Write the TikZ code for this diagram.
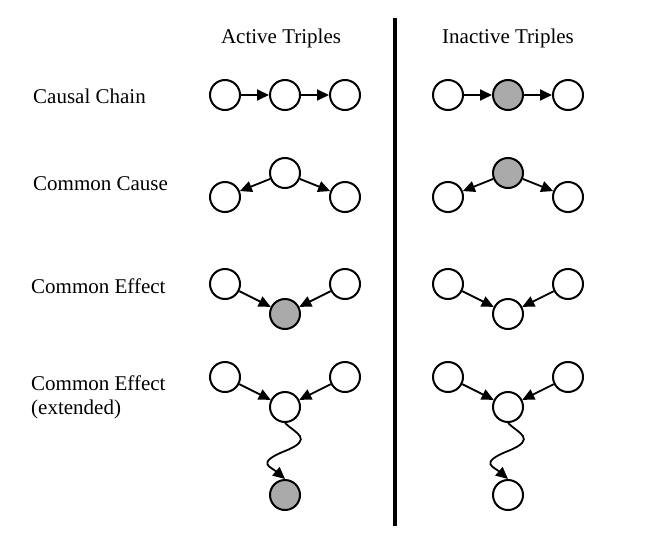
\documentclass[tikz,border=0pt]{standalone}
\usepackage{fontspec}
\setmainfont{Liberation Serif}
\usetikzlibrary{arrows.meta,calc}
\definecolor{obsgray}{RGB}{170,170,170}
\tikzset{
  var/.style={circle,draw=black,line width=2pt,minimum size=30pt,inner sep=0pt,fill=white},
  obs/.style={var,fill=obsgray},
  arr/.style={line width=1.8pt,-{Triangle[length=12pt,width=11pt]}},
  lbl/.style={anchor=base west,inner sep=0pt,font=\fontsize{21}{24}\selectfont},
  hdr/.style={anchor=base,inner sep=0pt,font=\fontsize{21}{24}\selectfont}
}
\begin{document}
\begin{tikzpicture}[x=1pt,y=-1pt]
\useasboundingbox (0,0) rectangle (645,554);
% headers
\node[hdr] (hA) at (281,43) {Active Triples};
\node[hdr] (hI) at (508,43) {Inactive Triples};
% divider
\coordinate (dt) at (395,18);
\coordinate (db) at (395,526);
\draw[line width=4pt] (dt) -- (db);
% row labels
\node[lbl] (l1) at (33,103) {Causal Chain};
\node[lbl] (l2) at (33,190) {Common Cause};
\node[lbl] (l3) at (31,293) {Common Effect};
\node[lbl] (l4) at (31,390) {Common Effect};
\node[lbl] (l4b) at (31,414) {(extended)};
% ---------- Active ----------
% causal chain
\node[var] (a1) at (225,95) {};
\node[var] (a2) at (285,95) {};
\node[var] (a3) at (345,95) {};
\draw[arr] (a1) -- (a2);
\draw[arr] (a2) -- (a3);
% common cause
\node[var] (b2) at (285,173) {};
\node[var] (b1) at (225,197) {};
\node[var] (b3) at (345,197) {};
\draw[arr] (b2) -- (b1);
\draw[arr] (b2) -- (b3);
% common effect
\node[var] (c1) at (225,284) {};
\node[var] (c3) at (345,284) {};
\node[obs] (c2) at (285,314) {};
\draw[arr] (c1) -- (c2);
\draw[arr] (c3) -- (c2);
% common effect extended
\node[var] (d1) at (225,377) {};
\node[var] (d3) at (345,377) {};
\node[var] (d2) at (285,407) {};
\node[obs] (d4) at (285,495) {};
\draw[arr] (d1) -- (d2);
\draw[arr] (d3) -- (d2);
\draw[arr] (d2.south) .. controls +(10,10) and +(30,-12) .. ($(d2.south)!0.5!(d4.north)$) .. controls +(-30,12) and +(-14,-12) .. (d4.north);
% ---------- Inactive ----------
\node[var] (e1) at (448,95) {};
\node[obs] (e2) at (508,95) {};
\node[var] (e3) at (568,95) {};
\draw[arr] (e1) -- (e2);
\draw[arr] (e2) -- (e3);
\node[obs] (f2) at (508,173) {};
\node[var] (f1) at (448,197) {};
\node[var] (f3) at (568,197) {};
\draw[arr] (f2) -- (f1);
\draw[arr] (f2) -- (f3);
\node[var] (g1) at (448,284) {};
\node[var] (g3) at (568,284) {};
\node[var] (g2) at (508,314) {};
\draw[arr] (g1) -- (g2);
\draw[arr] (g3) -- (g2);
\node[var] (h1) at (448,377) {};
\node[var] (h3) at (568,377) {};
\node[var] (h2) at (508,407) {};
\node[var] (h4) at (508,495) {};
\draw[arr] (h1) -- (h2);
\draw[arr] (h3) -- (h2);
\draw[arr] (h2.south) .. controls +(10,10) and +(30,-12) .. ($(h2.south)!0.5!(h4.north)$) .. controls +(-30,12) and +(-14,-12) .. (h4.north);
\end{tikzpicture}
\end{document}
